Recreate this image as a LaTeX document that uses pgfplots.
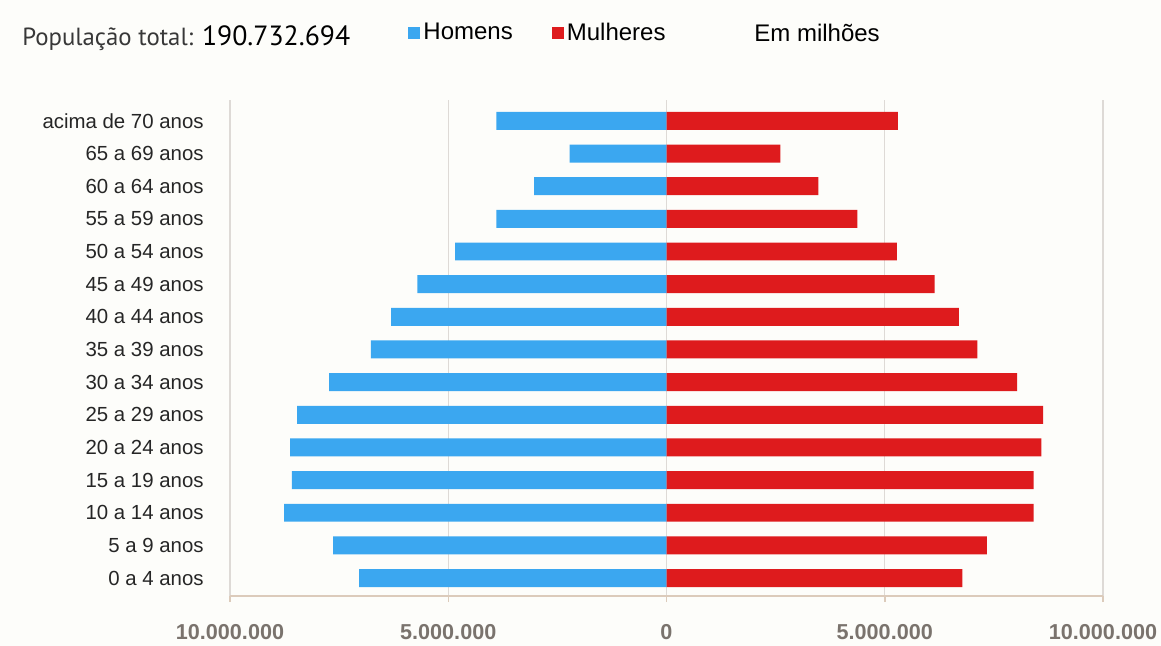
\documentclass[border=0pt]{standalone}
\usepackage{fontspec}
\setmainfont{Liberation Sans}
\newfontfamily\titlefont{PT Sans}
\usepackage{pgfplots}
\usepackage{pgfplotstable}
\pgfplotsset{compat=1.18}

\definecolor{homens}{HTML}{3BA7F0}
\definecolor{mulheres}{HTML}{DE1B1D}
\definecolor{fundo}{HTML}{FDFDFA}
\definecolor{grade}{HTML}{DEDAD6}
\definecolor{eixo}{HTML}{DCCBBB}
\definecolor{rotulo}{HTML}{7A736D}

% populacao em milhoes, homens negativos
\pgfplotstableread{
pos homens mulheres
0  -7.04 6.78
1  -7.64 7.34
2  -8.76 8.41
3  -8.58 8.41
4  -8.62 8.59
5  -8.46 8.63
6  -7.73 8.03
7  -6.77 7.12
8  -6.31 6.70
9  -5.71 6.14
10 -4.84 5.28
11 -3.90 4.37
12 -3.03 3.48
13 -2.22 2.61
14 -3.90 5.30
}\piramide

\begin{document}
\begin{tikzpicture}
\fill[fundo] (0,0) rectangle (580.5bp,323bp);
\path[use as bounding box] (0,0) rectangle (580.5bp,323bp);
\begin{axis}[
    at={(115bp,25bp)}, anchor=south west,
    scale only axis, width=436.5bp, height=248bp,
    xbar, bar width=0.55, bar shift=0pt,
    xmin=-10, xmax=10, ymin=-0.55, ymax=14.64,
    xtick={-10,-5,0,5,10},
    xticklabels={10.000.000,5.000.000,0,5.000.000,10.000.000},
    ytick={0,...,14},
    yticklabels={0 a 4 anos,5 a 9 anos,10 a 14 anos,15 a 19 anos,20 a 24 anos,
        25 a 29 anos,30 a 34 anos,35 a 39 anos,40 a 44 anos,45 a 49 anos,
        50 a 54 anos,55 a 59 anos,60 a 64 anos,65 a 69 anos,acima de 70 anos},
    axis x line*=bottom, axis y line*=left,
    y axis line style={draw=none},
    x axis line style={eixo, line width=1bp},
    ytick style={draw=none},
    xtick style={eixo, line width=0.75bp},
    tick align=outside, major tick length=3bp,
    xmajorgrids, grid style={grade, line width=0.6bp},
    xticklabel style={font=\bfseries\fontsize{10.8bp}{12bp}\selectfont, text=rotulo,
        inner sep=0pt, yshift=-11bp},
    yticklabel style={font=\fontsize{10.2bp}{12bp}\selectfont, text=black!85,
        inner sep=0pt, xshift=-10bp},
    legend columns=-1,
    legend image code/.code={\fill[#1] (0bp,-3bp) rectangle (6bp,3bp);},
    legend style={at={(0.204,1.135)}, anchor=west, draw=none, fill=none,
        inner sep=0pt, nodes={inner sep=1.5bp},
        font=\fontsize{12bp}{14bp}\selectfont,
        /tikz/every even column/.append style={column sep=18bp}},
]
\addplot[fill=homens, draw=none] table[x=homens, y=pos] {\piramide};
\addlegendentry{Homens}
\addplot[fill=mulheres, draw=none] table[x=mulheres, y=pos] {\piramide};
\addlegendentry{Mulheres}
\end{axis}
\node[anchor=west, inner sep=0pt] at (11bp,304bp)
    {\titlefont\fontsize{12.4bp}{14bp}\selectfont\color{black!78}População total: {\color{black}\fontsize{13.9bp}{15bp}\selectfont 190.732.694}};
\node[anchor=west, inner sep=0pt] at (377bp,306.5bp)
    {\fontsize{12bp}{14bp}\selectfont Em milhões};
\end{tikzpicture}
\end{document}
